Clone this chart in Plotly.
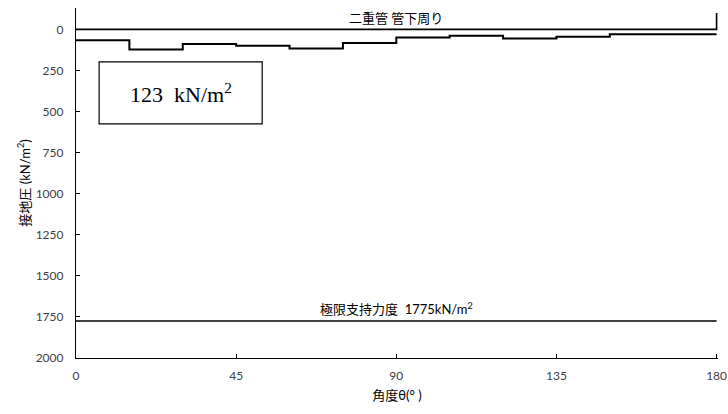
import plotly.graph_objects as go

# contact pressure steps (angle in degrees, pressure kN/m2)
angles = [0, 15, 30, 45, 60, 75, 90, 105, 120, 135, 150, 180]
pressure = [67, 123, 89, 99, 116, 83, 49, 39, 55, 45, 30, 30]

# pipe bottom reference line
pipe_x = [0, 180, 180]
pipe_y = [0, 0, -100]

# ultimate bearing capacity
limit_value = 1775
limit_x = [0, 180]

max_label = "123&nbsp;&nbsp;kN/m<sup>2</sup>"

font_fam = "Lato, 'Noto Sans CJK JP', sans-serif"

fig = go.Figure()

fig.add_trace(go.Scatter(x=pipe_x, y=pipe_y, mode="lines",
                         line=dict(color="black", width=1.6), showlegend=False))
fig.add_trace(go.Scatter(x=angles, y=pressure, mode="lines", line_shape="hv",
                         line=dict(color="black", width=2), showlegend=False))
fig.add_trace(go.Scatter(x=limit_x, y=[limit_value] * len(limit_x), mode="lines",
                         line=dict(color="black", width=1.6), showlegend=False))

fig.add_annotation(x=90, y=0, yanchor="bottom", yshift=1, showarrow=False,
                   text="二重管 管下周り", font=dict(size=13, color="black", family=font_fam))
fig.add_annotation(x=90, y=limit_value, yanchor="bottom", yshift=2, showarrow=False,
                   text="極限支持力度&nbsp;&nbsp;1775kN/m<sup>2</sup>",
                   font=dict(size=13, color="black", family=font_fam))

# boxed maximum value
fig.add_shape(type="rect", xref="paper", yref="paper",
              x0=0.036, x1=0.29, y0=0.669, y1=0.846,
              line=dict(color="black", width=1.2), fillcolor="white")
fig.add_annotation(xref="paper", yref="paper", x=0.163, y=0.7575,
                   xanchor="center", yanchor="middle", showarrow=False,
                   text=max_label,
                   font=dict(size=22, color="black", family="'Liberation Serif', serif"))

fig.update_xaxes(range=[0, 180.4], tickvals=[0, 45, 90, 135, 180],
                 showline=True, linecolor="black", linewidth=1.2,
                 ticks="inside", ticklen=4, tickcolor="black",
                 showgrid=False, zeroline=False, ticklabelstandoff=6,
                 ticklabeloverflow="allow",
                 tickfont=dict(size=12, color="#404040", family=font_fam),
                 title=dict(text="角度θ(°&nbsp;)", font=dict(size=13, color="black", family=font_fam),
                            standoff=9))
fig.update_yaxes(range=[2000, -130], tickvals=[0, 250, 500, 750, 1000, 1250, 1500, 1750, 2000],
                 showline=True, linecolor="black", linewidth=1.2,
                 ticks="inside", ticklen=4, tickcolor="black",
                 showgrid=False, zeroline=False, ticklabelstandoff=9,
                 tickfont=dict(size=12, color="#404040", family=font_fam),
                 title=dict(text="接地圧 (kN/m<sup>2</sup>)",
                            font=dict(size=13, color="black", family=font_fam), standoff=2))

fig.update_layout(width=728, height=414, plot_bgcolor="white", paper_bgcolor="white",
                  margin=dict(l=76, r=10, t=8, b=56, autoexpand=False), showlegend=False)

fig.write_html("out.html", config={"displayModeBar": False},
               post_script="document.body.style.margin='0';")
